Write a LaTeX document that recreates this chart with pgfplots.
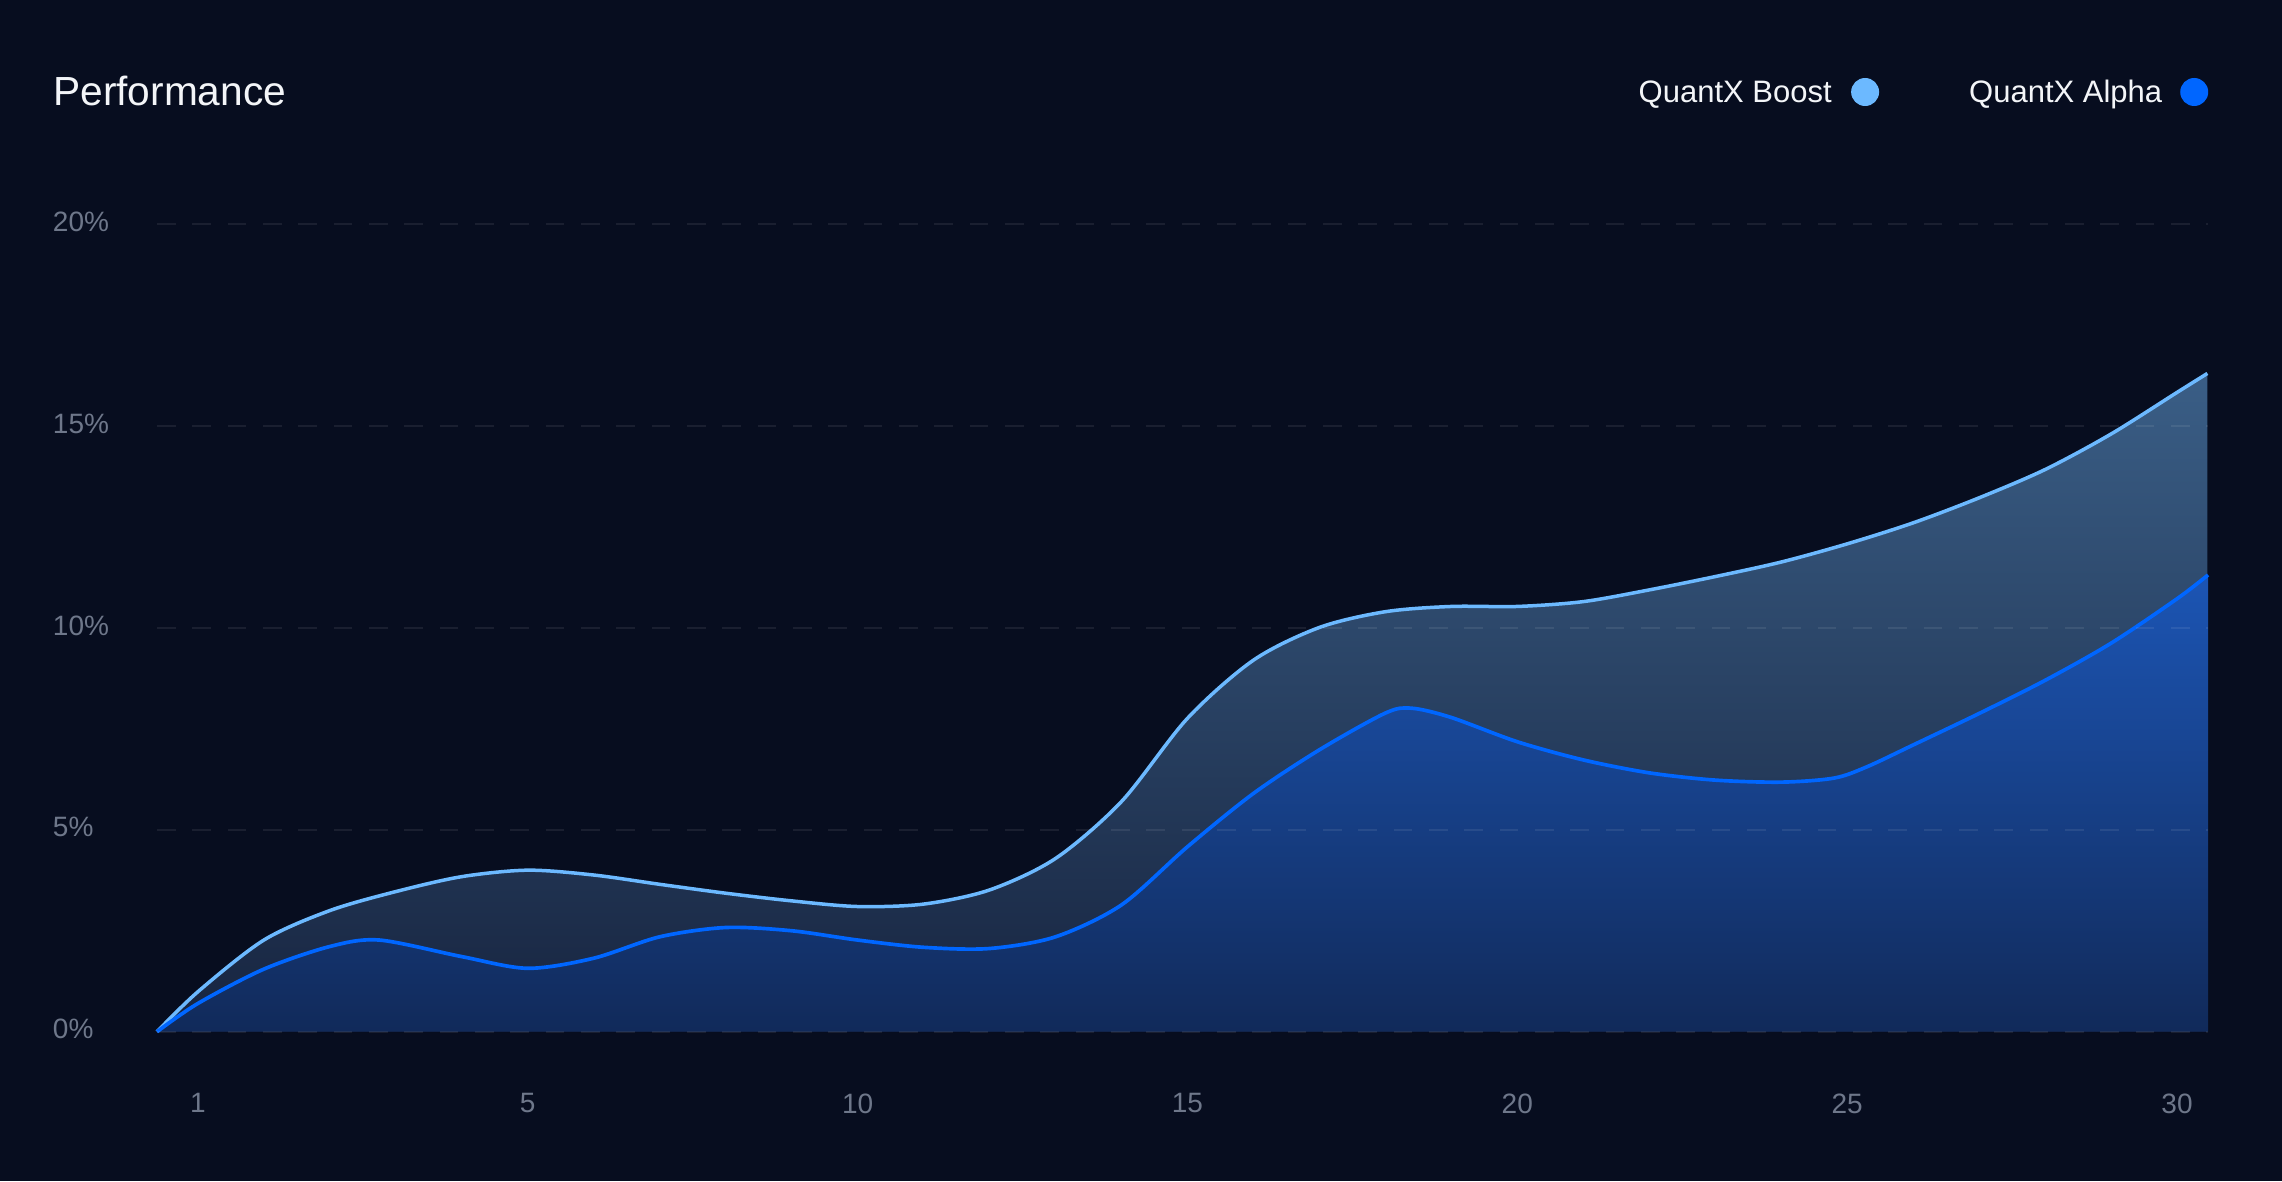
\documentclass[border=0pt]{standalone}
\usepackage{pgfplots}
\pgfplotsset{compat=1.18}
\usepackage{pgfplotstable}
\usepackage{fontspec}
\setmainfont{Liberation Sans}
\definecolor{bg}{HTML}{070D1F}
\definecolor{boostc}{HTML}{6CB9FF}
\definecolor{alphac}{HTML}{0066FF}
\definecolor{boostTop}{HTML}{3A5E86}
\definecolor{boostBot}{HTML}{17243F}
\definecolor{alphaTop}{HTML}{1C55B4}
\definecolor{alphaBot}{HTML}{112A5A}
\definecolor{ticklab}{HTML}{6E778A}
\definecolor{titlec}{HTML}{F3F5F8}

\pgfplotstableread{
x y
-0.62 0
0 0.99
1 2.27
2 3.0
3 3.47
4 3.84
5 4.00
6 3.88
7 3.65
8 3.43
9 3.24
10 3.10
11 3.16
12 3.51
13 4.29
14 5.70
15 7.76
16 9.20
17 10.01
18 10.40
19 10.53
20 10.53
21 10.65
22 10.94
23 11.27
24 11.63
25 12.08
26 12.6
27 13.22
28 13.92
29 14.8
30 15.83
30.46 16.3
}\boostdata

\pgfplotstableread{
x y
-0.62 0
0 0.70
1 1.55
2 2.11
2.75 2.27
4 1.86
5 1.57
6 1.82
7 2.35
8 2.58
9 2.50
10 2.27
11 2.09
12 2.06
13 2.35
14 3.14
15 4.58
16 5.90
17 6.98
18 7.89
18.4 8.01
19 7.78
20 7.18
21 6.73
22 6.41
23 6.23
24 6.18
24.8 6.28
25.3 6.56
26 7.1
27 7.88
28 8.7
29 9.62
30 10.72
30.47 11.31
}\alphadata

\begin{document}
\begin{tikzpicture}
\path[use as bounding box, fill=bg] (0pt,0pt) rectangle (684.6pt,354.3pt);
\begin{axis}[
  at={(47.1pt,44.79pt)}, anchor=south west,
  scale only axis,
  width=615.3pt, height=242.31pt,
  xmin=-0.62, xmax=30.47, ymin=0, ymax=20,
  clip=false,
  axis on top,
  axis line style={draw=none},
  major tick length=0pt,
  tick style={draw=none},
  xtick={0,5,10,15,20,25,30},
  xticklabels={1,5,10,15,20,25,30},
  ytick={0,5,10,15,20},
  yticklabels={0\%,5\%,10\%,15\%,20\%},
  ymajorgrids,
  grid style={draw=white, draw opacity=0.08, line width=0.55pt, dash pattern=on 5.6pt off 5pt},
  xticklabel style={anchor=north, inner sep=0pt, yshift=-18.4pt, text=ticklab, font=\fontsize{8.4}{10}\selectfont},
  yticklabel style={anchor=west, inner sep=0pt, xshift=-31.4pt, yshift=0.75pt, text=ticklab, font=\fontsize{8.4}{10}\selectfont},
  every axis plot/.append style={smooth, tension=0.5},
]
\addplot[draw=none, top color=boostTop, bottom color=boostBot] table[x=x,y=y] {\boostdata} \closedcycle;
\addplot[boostc, line width=1.05pt] table[x=x,y=y] {\boostdata};
\addplot[draw=none, top color=alphaTop, bottom color=alphaBot] table[x=x,y=y] {\alphadata} \closedcycle;
\addplot[alphac, line width=1.1pt] table[x=x,y=y] {\alphadata};
\end{axis}
\node[anchor=base west, inner sep=0pt, text=titlec, font=\fontsize{12.2}{14}\selectfont] at (15.81pt,322.71pt) {Performance};
\node[anchor=base west, inner sep=0pt, text=titlec, font=\fontsize{9.3}{11}\selectfont] at (491.4pt,323.49pt) {QuantX Boost};
\fill[boostc] (559.53pt,326.7pt) circle[radius=4.2pt];
\node[anchor=base west, inner sep=0pt, text=titlec, font=\fontsize{9.3}{11}\selectfont] at (590.55pt,323.49pt) {QuantX Alpha};
\fill[alphac] (658.26pt,326.7pt) circle[radius=4.2pt];
\end{tikzpicture}
\end{document}
